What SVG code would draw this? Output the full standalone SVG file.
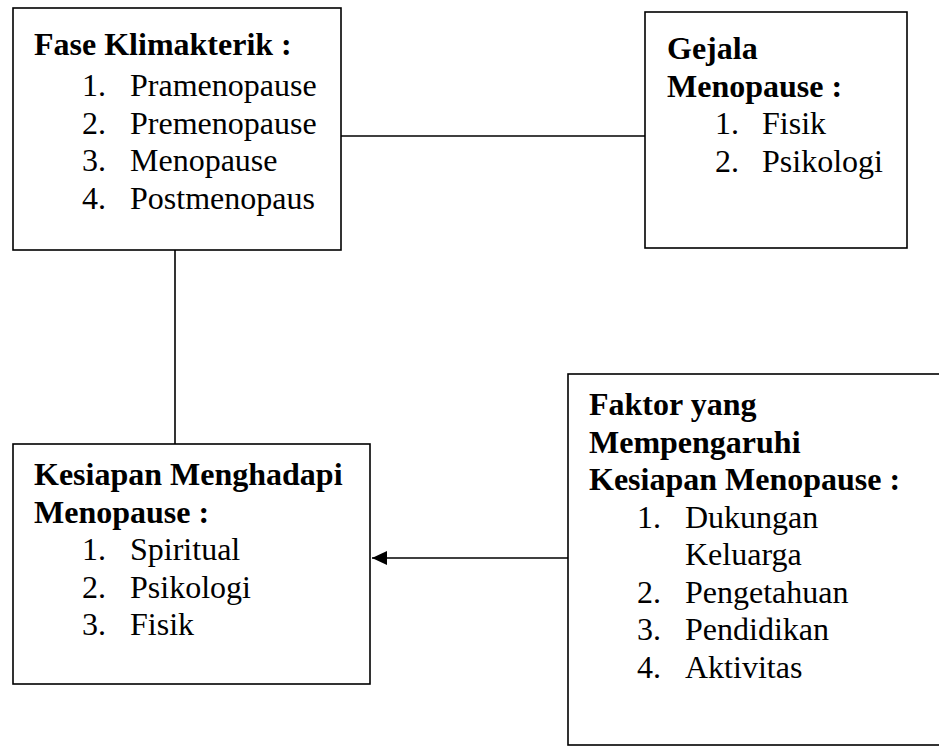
<svg xmlns="http://www.w3.org/2000/svg" width="939" height="756" viewBox="0 0 939 756">
<style>
.box{fill:#fff;stroke:#000;stroke-width:1.6}
.h{font-family:"Liberation Serif","Times New Roman",serif;font-weight:bold;font-size:32px;fill:#000}
.t{font-family:"Liberation Serif","Times New Roman",serif;font-size:32px;fill:#000}
.ln{stroke:#000;stroke-width:1.6;fill:none}
</style>
<defs>
<marker id="arr" markerWidth="16" markerHeight="14" refX="15" refY="7" orient="auto" markerUnits="userSpaceOnUse">
<path d="M0,0 L15,7 L0,14 Z" fill="#000"/>
</marker>
</defs>
<rect width="939" height="756" fill="#fff"/>
<g id="connectors">
<line class="ln" x1="341" y1="136" x2="645" y2="136"/>
<line class="ln" x1="175" y1="250" x2="175" y2="444"/>
<line class="ln" x1="568" y1="558" x2="372" y2="558" marker-end="url(#arr)"/>
</g>
<g id="fase">
<rect class="box" x="13" y="8" width="328" height="242"/>
<text class="h" x="34" y="55">Fase Klimakterik :</text>
<text class="t" x="82" y="96">1.</text><text class="t" x="130" y="96">Pramenopause</text>
<text class="t" x="82" y="133.5">2.</text><text class="t" x="130" y="133.5">Premenopause</text>
<text class="t" x="82" y="171">3.</text><text class="t" x="130" y="171">Menopause</text>
<text class="t" x="82" y="208.5">4.</text><text class="t" x="130" y="208.5">Postmenopaus</text>
</g>
<g id="gejala">
<rect class="box" x="645" y="12" width="262" height="236"/>
<text class="h" x="667" y="59">Gejala</text>
<text class="h" x="667" y="96.5">Menopause :</text>
<text class="t" x="715" y="134">1.</text><text class="t" x="762" y="134">Fisik</text>
<text class="t" x="715" y="171.5">2.</text><text class="t" x="762" y="171.5">Psikologi</text>
</g>
<g id="kesiapan">
<rect class="box" x="13" y="444" width="357" height="240"/>
<text class="h" x="34" y="485">Kesiapan Menghadapi</text>
<text class="h" x="34" y="522.5">Menopause :</text>
<text class="t" x="82" y="560">1.</text><text class="t" x="130" y="560">Spiritual</text>
<text class="t" x="82" y="597.5">2.</text><text class="t" x="130" y="597.5">Psikologi</text>
<text class="t" x="82" y="635">3.</text><text class="t" x="130" y="635">Fisik</text>
</g>
<g id="faktor">
<rect class="box" x="568" y="374" width="380" height="371"/>
<text class="h" x="589" y="415">Faktor yang</text>
<text class="h" x="589" y="452.5">Mempengaruhi</text>
<text class="h" x="589" y="490">Kesiapan Menopause :</text>
<text class="t" x="637" y="527.5">1.</text><text class="t" x="685" y="527.5">Dukungan</text>
<text class="t" x="685" y="565">Keluarga</text>
<text class="t" x="637" y="602.5">2.</text><text class="t" x="685" y="602.5">Pengetahuan</text>
<text class="t" x="637" y="640">3.</text><text class="t" x="685" y="640">Pendidikan</text>
<text class="t" x="637" y="677.5">4.</text><text class="t" x="685" y="677.5">Aktivitas</text>
</g>
</svg>
